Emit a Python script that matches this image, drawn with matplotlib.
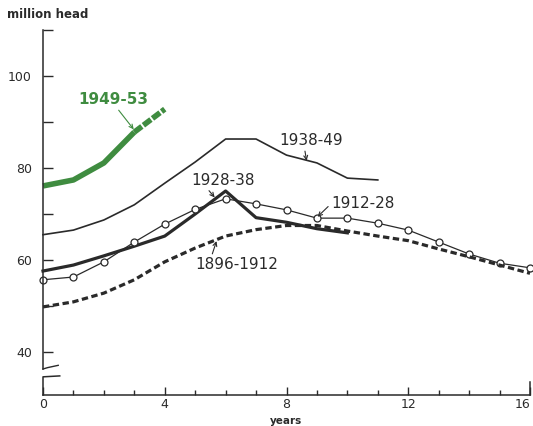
import matplotlib.pyplot as plt
import numpy as np

# values (million head, by year of cycle)
yrs_1949 = [0, 1, 2, 3, 4]
val_1949 = [76.1, 77.4, 81.1, 87.8, 92.8]

yrs_1938 = list(range(12))
val_1938 = [65.5, 66.5, 68.7, 72.0, 76.7, 81.3, 86.3, 86.3, 82.8, 81.1, 77.8, 77.4]

yrs_1928 = list(range(11))
val_1928 = [57.6, 58.9, 60.9, 63.0, 65.2, 70.0, 75.0, 69.2, 68.2, 66.8, 65.9]

yrs_1912 = list(range(17))
val_1912 = [55.7, 56.3, 59.6, 63.9, 67.8, 71.0, 73.3, 72.2, 70.9, 69.1, 69.1,
            68.0, 66.5, 63.9, 61.3, 59.3, 58.3]

yrs_1896 = list(range(17))
val_1896 = [49.8, 50.9, 52.8, 55.7, 59.6, 62.6, 65.2, 66.6, 67.5, 67.5, 66.3,
            65.2, 64.2, 62.4, 60.7, 58.9, 57.1]

xticks = [0, 4, 8, 12, 16]
yticks = [40, 60, 80, 100]

ink = '#2a2a2a'
green = '#3f8c40'

fig = plt.figure(figsize=(5.33, 4.26), dpi=100)
ax = fig.add_axes([43/533, 1-395/426, (530-43)/533, (395-30)/426])
ax.set_xlim(0, 16)
ax.set_ylim(30.65, 110)

# curves
ax.plot(yrs_1949[:4], val_1949[:4], color=green, lw=4.0, solid_capstyle='butt', clip_on=False)
ax.plot(yrs_1949[3:], val_1949[3:], color=green, lw=4.0, dashes=(1.7, 0.35), clip_on=False)
ax.plot(yrs_1938, val_1938, color=ink, lw=1.2, clip_on=False)
ax.plot(yrs_1928, val_1928, color=ink, lw=2.3, clip_on=False)
ax.plot(yrs_1912, val_1912, color=ink, lw=0.9, marker='o', ms=5, mfc='white',
        mec=ink, mew=0.9, clip_on=False)
ax.plot(yrs_1896, val_1896, color=ink, lw=2.3, dashes=(2.0, 1.1), clip_on=False)

# labels with little arrows
arr = dict(arrowstyle='->', color=ink, lw=0.8, mutation_scale=7, shrinkA=0, shrinkB=0)
ax.annotate('1949-53', xy=(2.98, 88.4), xytext=(2.3, 94.8), color=green, fontsize=11,
            fontweight='bold', ha='center', va='center',
            arrowprops=dict(arr, color=green, relpos=(0.55, 0)))
ax.annotate('1938-49', xy=(8.66, 81.6), xytext=(8.8, 85.9), fontsize=11, color=ink,
            ha='center', va='center', arrowprops=dict(arr, relpos=(0.4, 0)))
ax.annotate('1928-38', xy=(5.64, 73.6), xytext=(5.9, 77.3), fontsize=11, color=ink,
            ha='center', va='center', arrowprops=dict(arr, relpos=(0.25, 0)))
ax.annotate('1912-28', xy=(9.02, 69.4), xytext=(10.5, 72.2), fontsize=11, color=ink,
            ha='center', va='center', arrowprops=dict(arr, relpos=(0, 0.5)))
ax.annotate('1896-1912', xy=(5.7, 64.1), xytext=(6.35, 59.1), fontsize=11, color=ink,
            ha='center', va='center', arrowprops=dict(arr, relpos=(0.2, 1)))

# axes styling
for s in ['top', 'right']:
    ax.spines[s].set_visible(False)
ax.spines['bottom'].set_color(ink)
ax.spines['bottom'].set_linewidth(1.1)
ax.spines['left'].set_color(ink)
ax.spines['left'].set_linewidth(1.1)
ax.spines['left'].set_bounds(36.3, 110)

# axis break and lower stub of the y axis
ax.plot([0, 0.15, 0.5], [36.3, 36.6, 37.1], color=ink, lw=1.0, clip_on=False)
ax.plot([0, 0, 0.55], [30.65, 34.6, 34.8], color=ink, lw=1.1, clip_on=False)
# right end cap of the x axis
ax.plot([16, 16], [30.65, 33.5], color=ink, lw=1.1, clip_on=False)

ax.set_xticks(xticks)
ax.set_xticks(range(17), minor=True)
ax.set_yticks(yticks)
ax.set_yticks([50, 70, 90, 110], minor=True)
ax.tick_params(axis='x', which='major', direction='in', length=6, width=1, color=ink,
               labelsize=9, pad=2.5, labelcolor=ink)
ax.tick_params(axis='x', which='minor', direction='in', length=3.5, width=1, color=ink)
ax.tick_params(axis='y', which='both', direction='in', length=7.5, width=1, color=ink,
               labelsize=9, pad=8, labelcolor=ink)
ax.get_xticklabels()[-1].set_ha('right')

fig.text(7/533, 1-15/426, 'million head', fontsize=8.5, fontweight='semibold',
         color=ink, ha='left', va='center')
ax.set_xlabel('years', fontsize=7.5, color=ink, labelpad=3, fontweight='semibold')

fig.savefig('out.png', dpi=100)
